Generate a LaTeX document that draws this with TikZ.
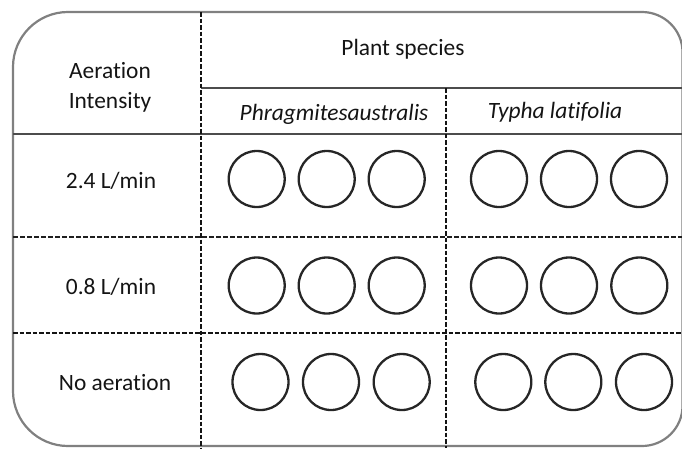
\documentclass[tikz,border=0pt]{standalone}
\usepackage{fontspec}
\setmainfont[Ligatures={NoCommon}]{Carlito}
\begin{document}
\begin{tikzpicture}[x=1pt,y=-1pt,
  lbl/.style={anchor=base,inner sep=0pt,text=black!92,font=\fontsize{23.4}{28}\selectfont},
  pot/.style={circle,draw=black!85,line width=2.3pt,minimum size=56pt,inner sep=0pt},
  border/.style={draw=black!50,line width=2.2pt},
  solidrule/.style={draw=black!70,line width=1.8pt},
  thickdash/.style={draw=black!92,line width=2.6pt,dash pattern=on 4.5pt off 2pt},
  thindash/.style={draw=black!88,line width=1.6pt,dash pattern=on 4.5pt off 2.5pt}]
\useasboundingbox (0,0) rectangle (682,448);
% outer rounded frame
\draw[border] (13,67) .. controls (13,36.6) and (37.6,12) .. (68,12)
  -- (642,12) .. controls (664.1,12) and (682.5,29.9) .. (682.5,52)
  -- (682.5,406) .. controls (682.5,428.1) and (664.1,446) .. (642,446)
  -- (68,446) .. controls (37.6,446) and (13,421.4) .. (13,391) -- cycle;
% grid coordinates
\coordinate (vA1) at (201,12);   \coordinate (vA2) at (201,448);
\coordinate (vB1) at (446,88);   \coordinate (vB2) at (446,448);
\coordinate (hA1) at (201,88);   \coordinate (hA2) at (682,88);
\coordinate (hB1) at (13,134);   \coordinate (hB2) at (682,134);
\coordinate (hC1) at (13,237);   \coordinate (hC2) at (682,237);
\coordinate (hD1) at (13,333);   \coordinate (hD2) at (682,333);
\draw[solidrule] (hA1) -- (hA2);
\draw[solidrule] (hB1) -- (hB2);
\draw[thindash] (hC1) -- (hC2);
\draw[thickdash] (hD1) -- (hD2);
\draw[thickdash] (vA1) -- (vA2);
\draw[thickdash] (vB1) -- (vB2);
% texts
\node[lbl] (aer) at (110,78) {Aeration};
\node[lbl] (int) at (110,108) {Intensity};
\node[lbl] (plant) at (403,55) {Plant species};
\node[lbl] (phr) at (334,120.5) {\itshape Phragmitesaustralis};
\node[lbl] (typ) at (555,118) {\itshape Typha latifolia};
\node[lbl] (r1) at (111,188) {2.4 L/min};
\node[lbl] (r2) at (111,294) {0.8 L/min};
\node[lbl] (r3) at (115,390.5) {No aeration};
% pots
\foreach \x [count=\i] in {256.7,326.7,396.7,499,569,639}
  \node[pot] (p1\i) at (\x,179) {};
\foreach \x [count=\i] in {256.7,326.7,396.7,499,569,639.3}
  \node[pot] (p2\i) at (\x,285.5) {};
\foreach \x [count=\i] in {260.5,331,401.7,503.3,573.3,644}
  \node[pot] (p3\i) at (\x,382) {};
\end{tikzpicture}
\end{document}
